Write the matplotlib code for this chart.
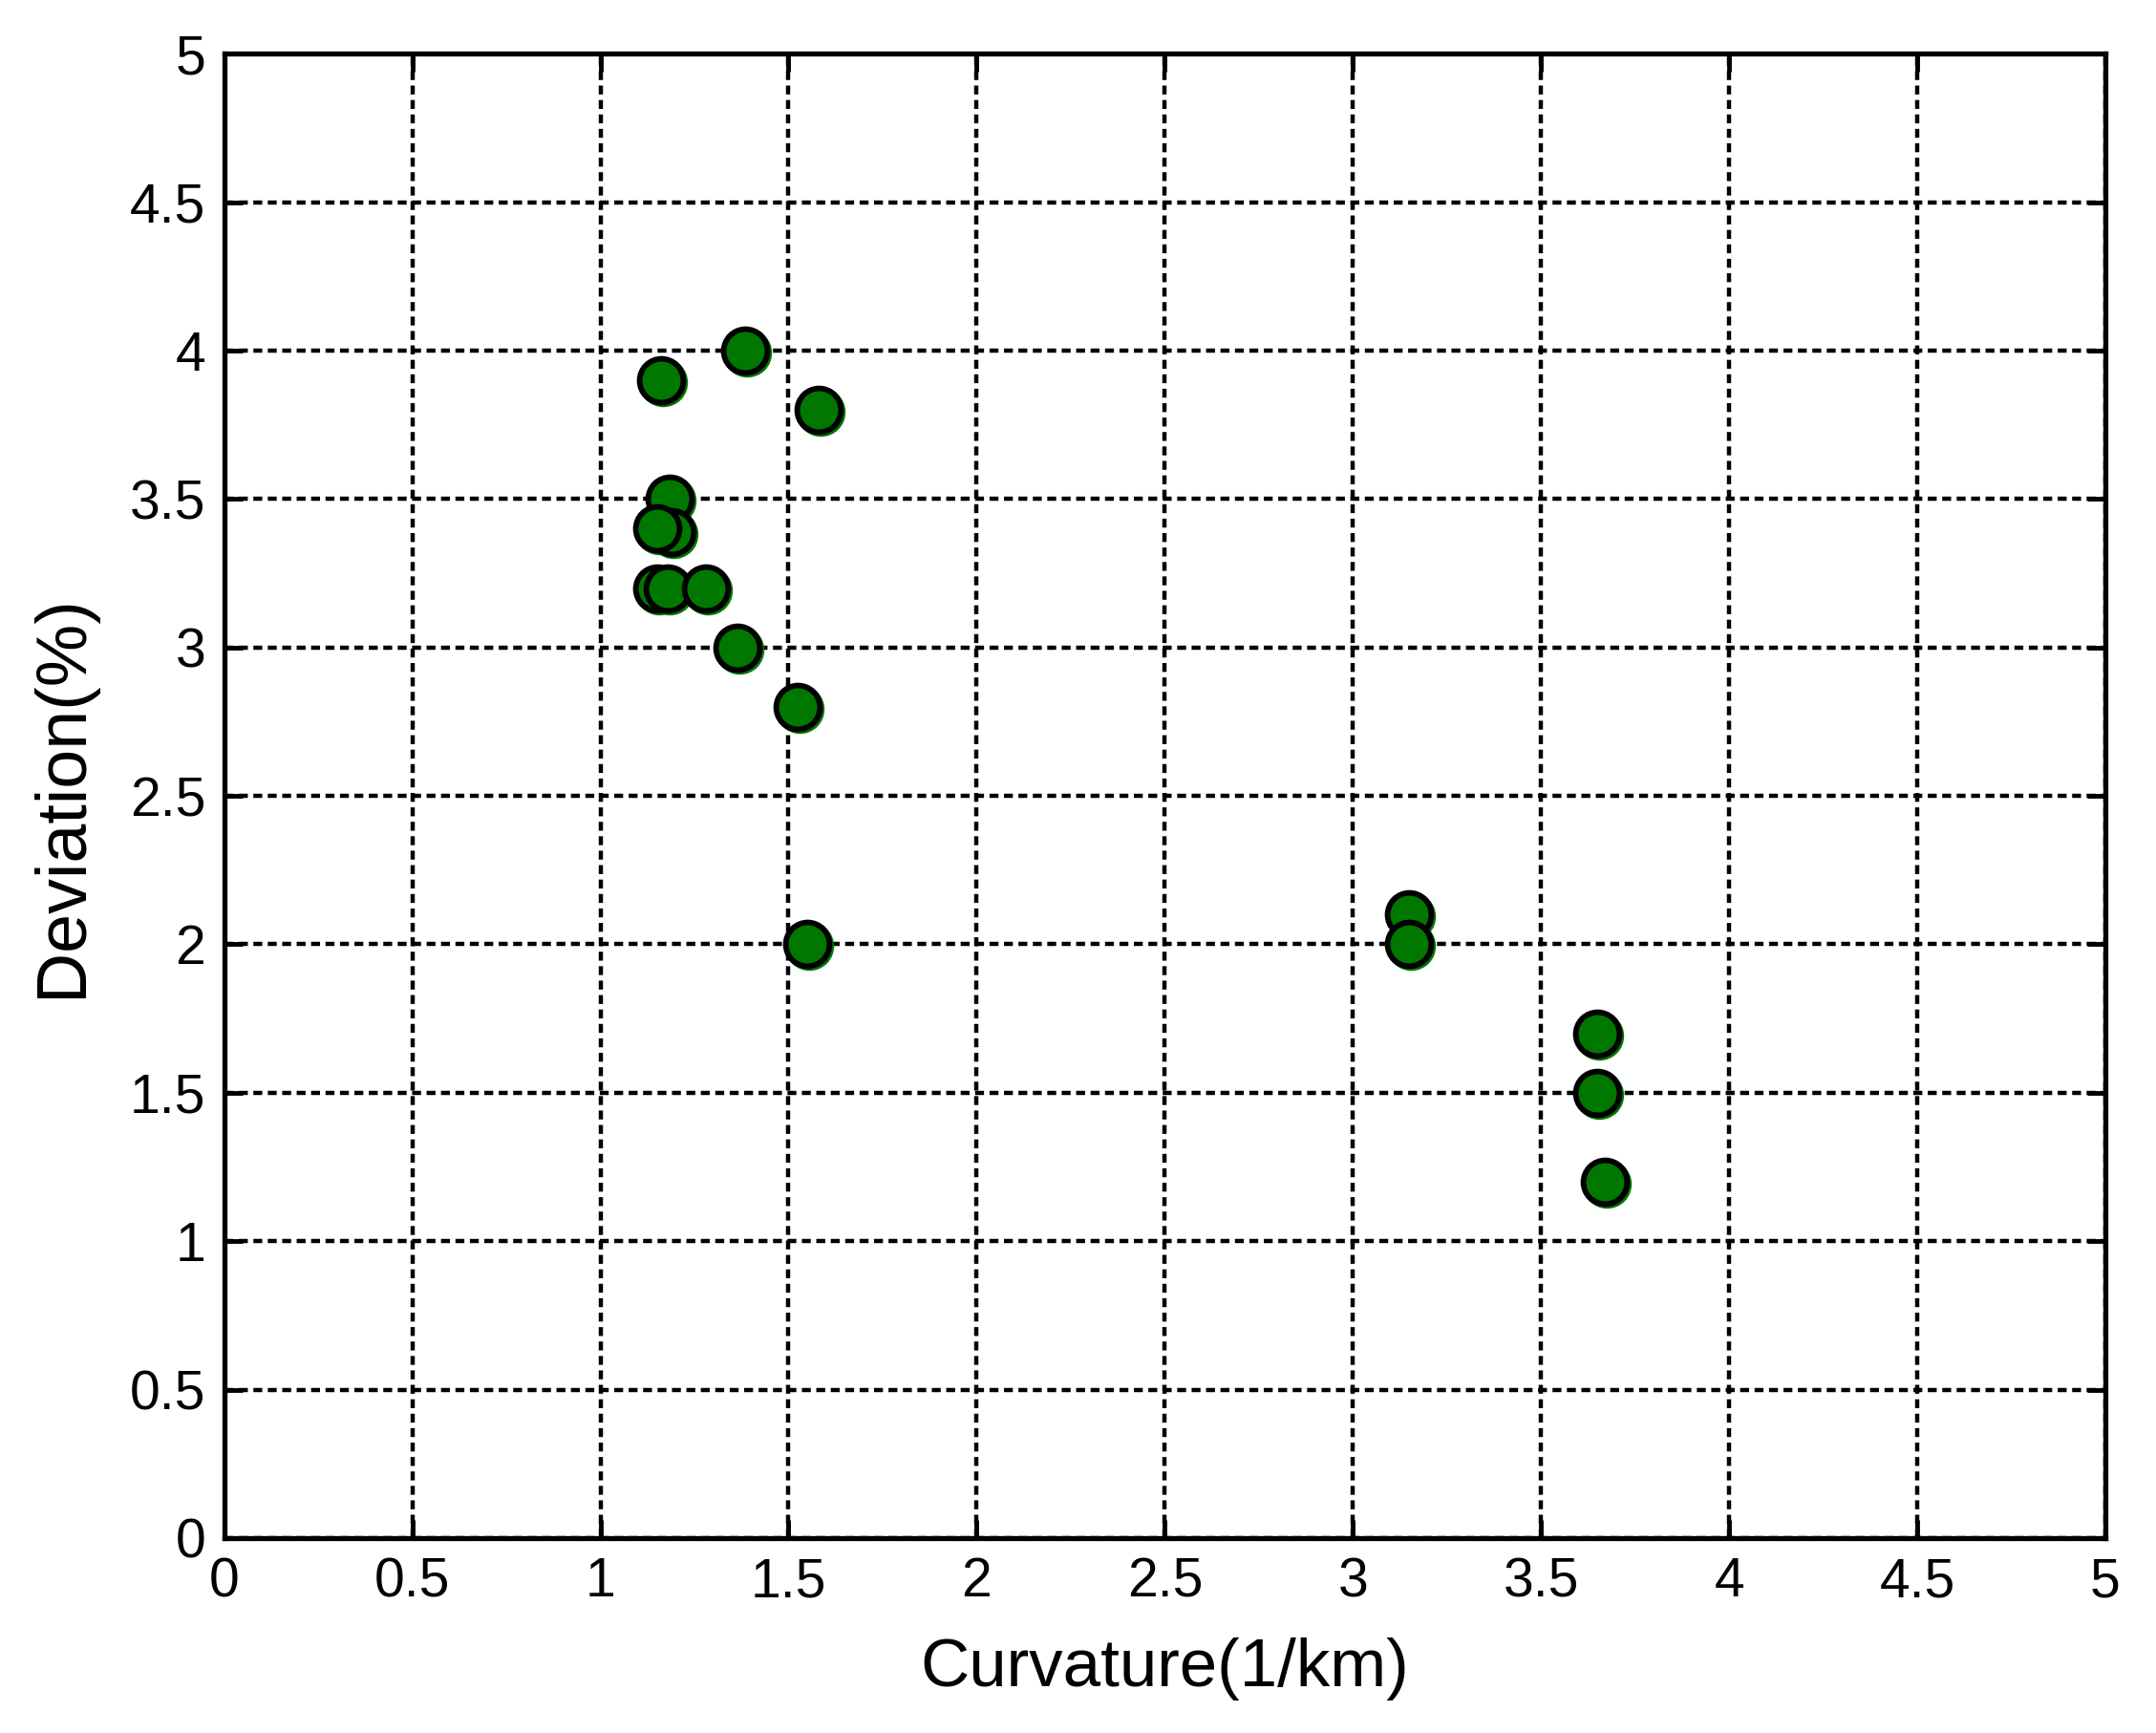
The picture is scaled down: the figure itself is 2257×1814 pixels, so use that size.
import matplotlib
matplotlib.use('Agg')
from matplotlib import pyplot as plt
import matplotlib.transforms as mtransforms

curvature = [1.16, 1.385, 1.58, 1.185, 1.19, 1.15, 1.15, 1.18, 1.28, 1.365, 1.525,
             1.55, 3.15, 3.15, 3.65, 3.65, 3.67]
deviation = [3.9, 4.0, 3.8, 3.5, 3.39, 3.4, 3.2, 3.2, 3.2, 3.0, 2.8,
             2.0, 2.1, 2.0, 1.7, 1.5, 1.2]

ticks = [0, 0.5, 1, 1.5, 2, 2.5, 3, 3.5, 4, 4.5, 5]
tick_labels = ['0', '0.5', '1', '1.5', '2', '2.5', '3', '3.5', '4', '4.5', '5']

plt.rcParams['font.family'] = ['Liberation Sans', 'DejaVu Sans']

fig = plt.figure(figsize=(22.57, 18.14), dpi=100)
ax = fig.add_axes([0.104, 0.1125, 0.8725, 0.8565])

# green offset "shadow" like the matlab render
shadow = ax.transData + mtransforms.ScaledTranslation(2/100, -2/100, fig.dpi_scale_trans)
ax.plot(curvature, deviation, 'o', color='#007800', markersize=37, markeredgewidth=0,
        transform=shadow, zorder=3)
ax.plot(curvature, deviation, 'o', markerfacecolor='#007800', markeredgecolor='black',
        markersize=33, markeredgewidth=4.2, zorder=4)

ax.set_xlim(0, 5)
ax.set_ylim(0, 5)
ax.set_xticks(ticks)
ax.set_yticks(ticks)
ax.set_xticklabels(tick_labels)
ax.set_yticklabels(tick_labels)
ax.grid(True, color='black', linewidth=3.2, linestyle=(0, (2.1, 1.3)))
ax.tick_params(direction='in', length=14, width=3.5, labelsize=41, pad=14,
               top=True, right=True)
for s in ax.spines.values():
    s.set_linewidth(3.8)

ax.set_xlabel('Curvature(1/km)', fontsize=51, labelpad=22)
ax.set_ylabel('Deviation(%)', fontsize=53, labelpad=26)

fig.savefig('out.png', dpi=100)
